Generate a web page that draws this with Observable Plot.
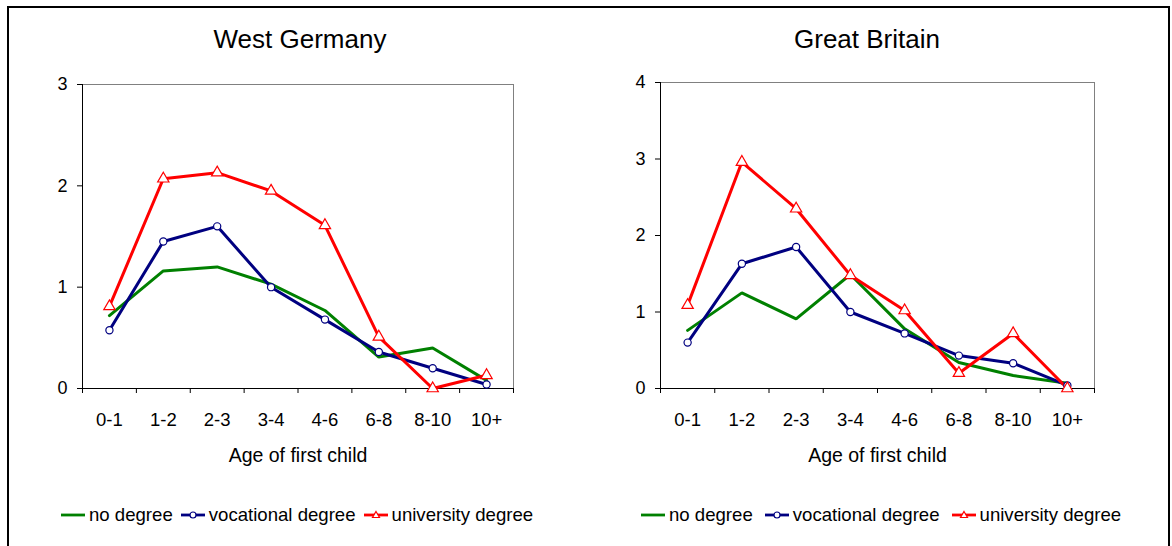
<!DOCTYPE html>
<html>
<head>
<meta charset="utf-8">
<script src="https://cdn.jsdelivr.net/npm/d3@7"></script>
<script src="https://cdn.jsdelivr.net/npm/@observablehq/plot@0.6"></script>
<style>
  html, body { margin: 0; padding: 0; background: #fff; }
  body { width: 1172px; height: 546px; position: relative; overflow: hidden; font-family: "Liberation Sans", Arial, sans-serif; }
  #border { position: absolute; left: 7px; top: 6px; width: 1163px; height: 600px; border: 2px solid #000; box-sizing: border-box; }
  .panel { position: absolute; top: 0; }
  .title { position: absolute; top: 26px; font-size: 26px; line-height: 1; transform: translateX(-50%); white-space: nowrap; color: #000; }
  .legend { position: absolute; top: 506px; display: flex; align-items: center; font-size: 18.6px; line-height: 1; color: #000; white-space: nowrap; }
  .legend .item { display: flex; align-items: center; }
  .legend svg { margin-right: 4px; }
</style>
</head>
<body>
<div id="border"></div>
<div id="p1" class="panel" style="left:0px"></div>
<div id="p2" class="panel" style="left:586px"></div>
<div class="title" style="left:300px">West Germany</div>
<div class="title" style="left:867px">Great Britain</div>
<div id="leg1" class="legend" style="left:61px"></div>
<div id="leg2" class="legend" style="left:641px"></div>
<script>
// ---- data ----
const categories = ["0-1", "1-2", "2-3", "3-4", "4-6", "6-8", "8-10", "10+"];
const seriesNames = ["no degree", "vocational degree", "university degree"];

const wgNoDegree = [0.72, 1.16, 1.20, 1.03, 0.77, 0.31, 0.40, 0.08];
const wgVocational = [0.575, 1.45, 1.60, 1.00, 0.68, 0.36, 0.20, 0.04];
const wgUniversity = [0.81, 2.07, 2.13, 1.95, 1.61, 0.51, 0.00, 0.13];

const gbNoDegree = [0.76, 1.25, 0.91, 1.49, 0.78, 0.34, 0.17, 0.07];
const gbVocational = [0.60, 1.63, 1.85, 1.00, 0.72, 0.43, 0.33, 0.04];
const gbUniversity = [1.09, 2.96, 2.35, 1.48, 1.02, 0.20, 0.72, 0.00];

const yTicksWG = [0, 1, 2, 3];
const yTicksGB = [0, 1, 2, 3, 4];

const colors = {"no degree": "#008000", "vocational degree": "#000080", "university degree": "#ff0000"};

function toRows(arrs) {
  const rows = [];
  arrs.forEach((arr, s) => arr.forEach((v, i) => rows.push({series: seriesNames[s], idx: i + 0.5, cat: categories[i], value: v})));
  return rows;
}

function panel(rows, yMax, yTicks, ml, mr, mt) {
  const font = "Liberation Sans, Arial, sans-serif";
  return Plot.plot({
    width: 586,
    height: 480,
    marginLeft: ml,
    marginRight: mr,
    marginTop: mt,
    marginBottom: 92,
    style: {fontFamily: font, fontSize: "18px", background: "transparent", color: "#000"},
    x: {type: "linear", domain: [0, categories.length], axis: null, label: null},
    y: {domain: [0, yMax], axis: null, label: null},
    marks: [
      Plot.frame({stroke: "#808080", strokeWidth: 1}),
      Plot.ruleY([0], {stroke: "#000", strokeWidth: 1}),
      Plot.ruleX([0], {stroke: "#000", strokeWidth: 1}),
      Plot.axisY(yTicks, {anchor: "left", label: null, tickSize: 5, tickPadding: 10, fontSize: 18, stroke: "#000", tickFormat: d3.format("d")}),
      Plot.axisX(d3.range(0, categories.length + 1), {anchor: "bottom", label: null, tickSize: 5, tickFormat: () => "", stroke: "#000"}),
      Plot.axisX(categories.map((c, i) => i + 0.5), {anchor: "bottom", label: null, tickSize: 0, tickPadding: 24, fontSize: 18.5, tickFormat: d => categories[Math.round(d - 0.5)]}),
      Plot.text(["Age of first child"], {frameAnchor: "bottom", dy: 73, fontSize: 19.5, fill: "#000"}),
      Plot.line(rows, {x: "idx", y: "value", z: "series", stroke: d => colors[d.series], strokeWidth: 3, strokeLinejoin: "miter"}),
      Plot.dot(rows.filter(d => d.series === "vocational degree"), {x: "idx", y: "value", symbol: "circle", r: 3.6, fill: "#fff", stroke: "#000080", strokeWidth: 1.2}),
      Plot.dot(rows.filter(d => d.series === "university degree"), {x: "idx", y: "value", symbol: "triangle", r: 4.2, fill: "#fff", stroke: "#ff0000", strokeWidth: 1.2})
    ]
  });
}

document.getElementById("p1").appendChild(panel(toRows([wgNoDegree, wgVocational, wgUniversity]), 3, yTicksWG, 82, 73, 84));
document.getElementById("p2").appendChild(panel(toRows([gbNoDegree, gbVocational, gbUniversity]), 4, yTicksGB, 74, 78, 82));

function swatch(name) {
  const c = colors[name];
  let marker = "";
  if (name === "vocational degree") marker = `<circle cx="12" cy="6" r="3" fill="#fff" stroke="${c}" stroke-width="1.2"/>`;
  if (name === "university degree") marker = `<path d="M12,2.5 L15.5,8.5 L8.5,8.5 Z" fill="#fff" stroke="${c}" stroke-width="1.2"/>`;
  return `<svg width="24" height="12"><line x1="0" y1="6" x2="24" y2="6" stroke="${c}" stroke-width="2.8"/>${marker}</svg>`;
}
function legend(id, gap) {
  const el = document.getElementById(id);
  el.innerHTML = seriesNames.map((n, i) => `<div class="item" style="margin-right:${i < 2 ? gap : 0}px">${swatch(n)}<span>${n}</span></div>`).join("");
}
legend("leg1", 8);
legend("leg2", 12);
</script>
</body>
</html>
